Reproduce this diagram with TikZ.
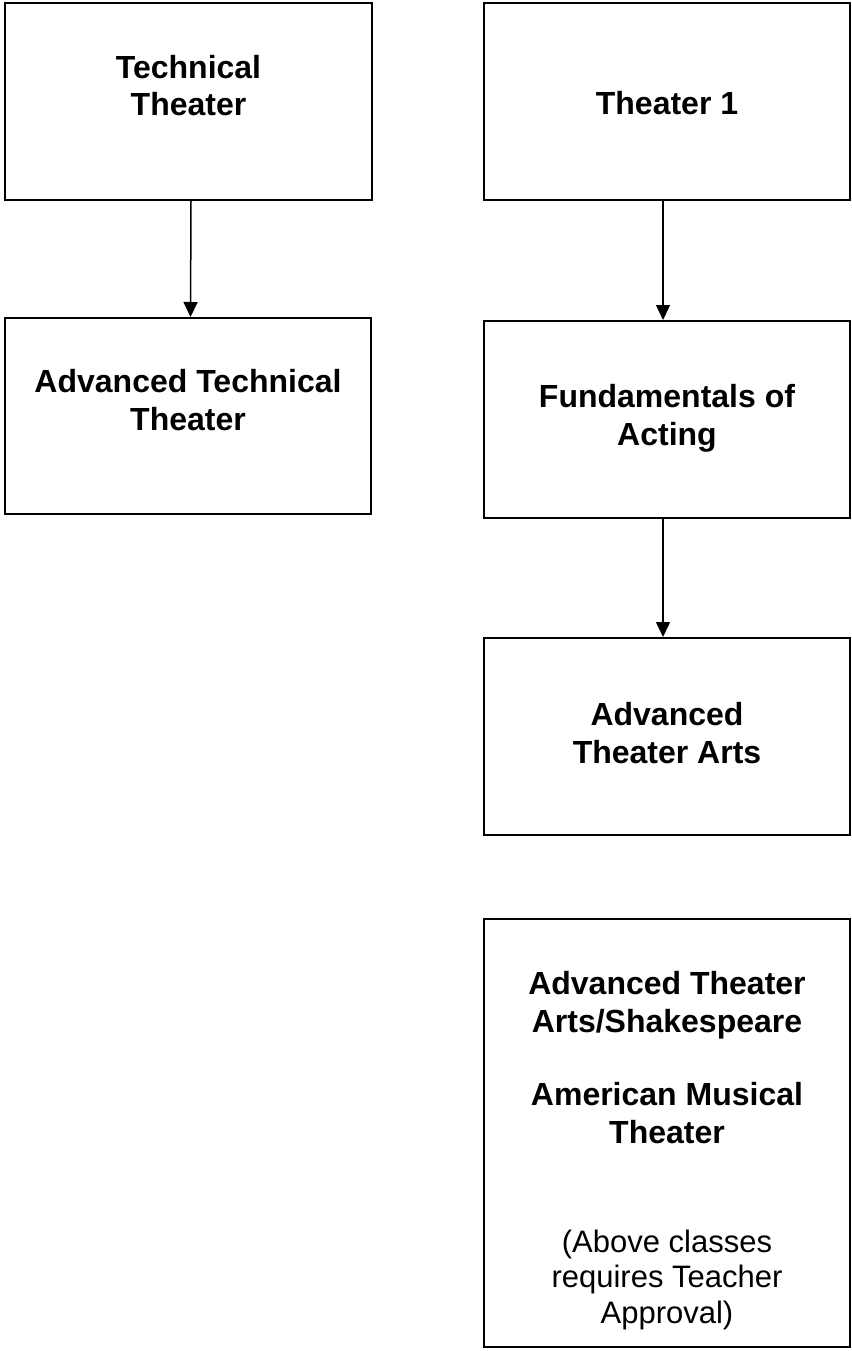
\documentclass[tikz,border=0pt]{standalone}
\usepackage{fontspec}
\setmainfont{Liberation Sans}
\usetikzlibrary{arrows.meta}

\tikzset{
  course/.style={draw=black, line width=2pt, inner sep=0pt, fill=white},
  % multi-line text: the base anchor sits on the last line's baseline
  heading/.style={font=\fontsize{32}{37.5}\selectfont\bfseries, align=center, anchor=base, inner sep=0pt},
  remark/.style={font=\fontsize{31}{35.5}\selectfont, align=center, anchor=base, inner sep=0pt},
  flow/.style={draw=black, line width=1.5pt, -{Triangle[width=14pt,length=15pt]}}
}

\begin{document}
\begin{tikzpicture}[x=1pt, y=-1pt]
  \useasboundingbox (0,0) rectangle (851,1351);

  % course boxes
  \node[course, minimum width=367pt, minimum height=197pt] (tech)    at (188.5,101.5) {};
  \node[course, minimum width=366pt, minimum height=197pt] (th1)     at (667,101.5)   {};
  \node[course, minimum width=366pt, minimum height=196pt] (advtech) at (188,416)     {};
  \node[course, minimum width=366pt, minimum height=197pt] (fund)    at (667,419.5)   {};
  \node[course, minimum width=366pt, minimum height=197pt] (advarts) at (667,736.5)   {};
  \node[course, minimum width=366pt, minimum height=428pt] (upper)   at (667,1133)    {};

  % course titles
  \node[heading] (techT)    at (188.5,116) {Technical\\Theater};
  \node[heading] (th1T)     at (667,115)   {Theater 1};
  \node[heading] (advtechT) at (188,430)   {Advanced Technical\\Theater};
  \node[heading] (fundT)    at (667,445)   {Fundamentals of\\Acting};
  \node[heading] (advartsT) at (667,763)   {Advanced\\Theater Arts};
  \node[heading] (shakeT)   at (667,1032)  {Advanced Theater\\Arts/Shakespeare};
  \node[heading] (musicT)   at (667,1143)  {American Musical\\Theater};
  \node[remark]  (noteT)    at (667,1323)  {(Above classes\\requires Teacher\\Approval)};

  % prerequisite arrows
  \draw[flow] ([xshift=2.5pt]tech.south) -- ([xshift=2.5pt]advtech.north);
  \draw[flow] ([xshift=-4pt]th1.south)   -- ([xshift=-4pt]fund.north);
  \draw[flow] ([xshift=-4pt]fund.south)  -- ([xshift=-4pt]advarts.north);
\end{tikzpicture}
\end{document}
